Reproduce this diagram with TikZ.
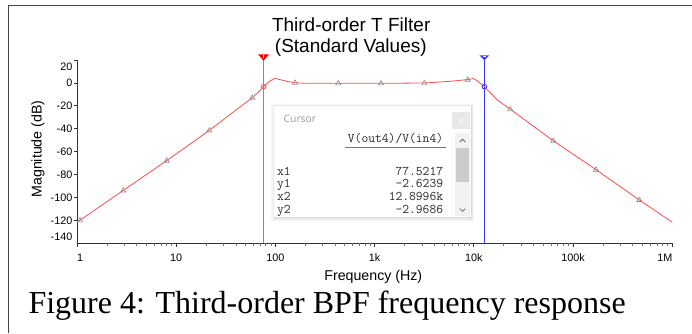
\documentclass[tikz,border=0pt]{standalone}
\usepackage{fontspec}
\setmainfont{Liberation Sans}
\newfontfamily\capfont{Liberation Serif}
\newfontfamily\uifont{Open Sans}

\definecolor{framegray}{HTML}{444444}
\definecolor{axisgray}{HTML}{333333}
\definecolor{curvered}{HTML}{FF4A4A}
\definecolor{cursorred}{HTML}{FF5A5A}
\definecolor{cursorblue}{HTML}{3A3AFF}
\definecolor{markgray}{HTML}{8A8A8A}
\definecolor{boxtext}{HTML}{2A2A2A}
\definecolor{traceline}{HTML}{FF3838}

\begin{document}
\begin{tikzpicture}[x=1pt,y=-1pt,
  ticklab/.style={font=\fontsize{10.8}{12}\selectfont, inner sep=0pt, text=black},
  axislab/.style={font=\fontsize{14.2}{16}\selectfont, inner sep=0pt},
  titlelab/.style={font=\fontsize{19}{21}\selectfont, inner sep=0pt, anchor=base},
  monolab/.style={font=\ttfamily\fontsize{13.2}{14}\selectfont, inner sep=0pt, text=boxtext},
  datamark/.style={draw=markgray, line width=0.6pt},
]
\useasboundingbox (0,0) rectangle (692,333);

% outer frame (top and left edges)
\draw[framegray, line width=1pt] (8.3,333) -- (8.3,5.6) -- (692,5.6);

% title
\node[titlelab] (title1) at (351.2,31) {Third-order T Filter};
\node[titlelab] (title2) at (350.8,52) {(Standard Values)};

% axes
\draw[axisgray, line width=0.9pt] (77,60) -- (77,243.3) -- (672,243.3);

% y ticks and labels  (y = 83 - 1.1443*dB)
\foreach \db in {20,0,-20,-40,-60,-80,-100,-120} {
  \pgfmathsetmacro\yy{83-1.1443*\db}
  \draw[axisgray, line width=0.8pt] (77,\yy) -- (73.5,\yy);
}
\foreach \db in {0,-20,-40,-60,-80,-100,-120} {
  \pgfmathsetmacro\yy{83-1.1443*\db}
  \node[ticklab, anchor=east] at (72.5,\yy) {\db};
}
\node[ticklab, anchor=east] (ytop) at (72.5,66.7) {20};
\node[ticklab, anchor=east] (ybot) at (72.5,236.7) {-140};

% x ticks (log scale, 99.2 per decade)
\foreach \d in {0,...,5} {
  \foreach \k in {2,...,9} {
    \pgfmathsetmacro\xx{77+99.2*(\d+log10(\k))}
    \draw[axisgray!70, line width=0.6pt] (\xx,243.3) -- (\xx,245.6);
  }
}
\foreach \d in {0,...,6} {
  \pgfmathsetmacro\xx{77+99.2*\d}
  \draw[axisgray, line width=0.8pt] (\xx,243.3) -- (\xx,247);
}
\node[ticklab, anchor=base west] (x1) at (77,261) {1};
\node[ticklab, anchor=base] (x10) at (176.2,261) {10};
\node[ticklab, anchor=base] (x100) at (275.4,261) {100};
\node[ticklab, anchor=base] (x1k) at (374.6,261) {1k};
\node[ticklab, anchor=base] (x10k) at (473.8,261) {10k};
\node[ticklab, anchor=base] (x100k) at (573,261) {100k};
\node[ticklab, anchor=base east] (x1M) at (672.5,261) {1M};

% axis titles
\node[axislab, anchor=base] (xtitle) at (373.3,280) {Frequency (Hz)};
\node[axislab, rotate=90, anchor=base] (ytitle) at (41.5,149) {Magnitude (dB)};

% cursor lines
\draw[cursorred, line width=1.1pt] (263.6,58) -- (263.6,243.3);
\draw[cursorblue, line width=1.1pt] (484.4,57) -- (484.4,243.3);
\fill[red!95!black] (258.2,54.3) -- (269,54.3) -- (263.6,60.8) -- cycle;
\fill[cursorblue] (479.4,55.3) -- (489.4,55.3) -- (484.4,60.3) -- cycle;
\draw[white, line width=0.6pt] (263.6,55.3) -- (263.6,57.8);
\draw[white, line width=0.5pt] (483,56.2) -- (485.8,56.2);

% response curve
\draw[curvered, line width=0.8pt, line join=round] plot coordinates {
  (77,222.3) (80,220.2) (123.3,190.4) (166.7,160.6) (209.3,130.4)
  (252.3,97.6) (258.5,92) (263.6,86.7) (269.5,81.2) (275,78.4)
  (281,79.8) (288,81.6) (295,82.7) (305,83.3) (338.3,83.3) (381,83.3)
  (424.3,83) (450,81.3) (467.7,79.6) (473.3,78.5) (477.5,81)
  (484.4,86.7) (491,93.5) (498,100.5) (510.3,109.2) (553.3,140.8)
  (596,169.6) (639.3,199.9) (672.3,222.3)
};

% simulation sample markers
\foreach \p in {(80,220.2),(123.3,190.4),(166.7,160.6),(209.3,130.4),(252.3,97.6),
  (295,82.7),(338.3,83.3),(381,83.3),(424.3,83.3),(467.7,79.6),
  (510.3,109.2),(553.3,140.8),(596,169.6),(639.3,199.9)}
  \draw[datamark] \p ++(-2.6,1.6) -- ++(5.2,0) -- ++(-2.6,-4.4) -- cycle;

% cursor points
\draw[cursorred, line width=0.9pt] (263.6,86.7) circle (2.3);
\draw[cursorblue, line width=0.9pt] (484.4,86.7) circle (2.3);

% cursor readout window with soft shadow
\fill[black, opacity=0.04] (271,104) rectangle (474,221);
\fill[black, opacity=0.05] (272.5,105) rectangle (473,219.7);
\fill[black, opacity=0.07] (273.5,105.5) rectangle (472,218.4);
\fill[white] (274,106) rectangle (470.5,217);
\node[font=\uifont\fontsize{10.3}{12}\selectfont, text=black!40, inner sep=0pt, anchor=base west]
  (curtitle) at (283.5,122.7) {Cursor};
\fill[black!9] (452.3,112.3) rectangle (470,129);
\draw[white, line width=0.6pt] (459.3,118.7) -- (463.1,122.5) (459.3,122.5) -- (463.1,118.7);

% scroll bar
\fill[black!5] (455,133) rectangle (470,216);
\fill[black!20] (456.3,148.3) rectangle (468.7,181.7);
\draw[black!60, line width=0.8pt] (459.7,142) -- (462.5,139.2) -- (465.3,142);
\draw[black!60, line width=0.8pt] (459.7,208.6) -- (462.5,211.4) -- (465.3,208.6);

% readout text
\node[monolab, anchor=base east] (trace) at (443.3,142.7) {V(out4)/V(in4)};
\draw[traceline, line width=0.9pt] (345,147.7) -- (446,147.7);
\node[monolab, anchor=base west] (lx1) at (276.8,175) {x1};
\node[monolab, anchor=base west] (ly1) at (276.8,187.5) {y1};
\node[monolab, anchor=base west] (lx2) at (276.8,200) {x2};
\node[monolab, anchor=base west] (ly2) at (276.8,213) {y2};
\node[monolab, anchor=base east] (vx1) at (443.3,175) {77.5217};
\node[monolab, anchor=base east] (vy1) at (443.3,187.5) {-2.6239};
\node[monolab, anchor=base east] (vx2) at (443.3,200) {12.8996k};
\node[monolab, anchor=base east] (vy2) at (443.3,213) {-2.9686};

% caption
\node[font=\capfont\fontsize{32}{36}\selectfont, inner sep=0pt, anchor=base west]
  (caption) at (28.3,313) {Figure 4: Third-order BPF frequency response};
\end{tikzpicture}
\end{document}
